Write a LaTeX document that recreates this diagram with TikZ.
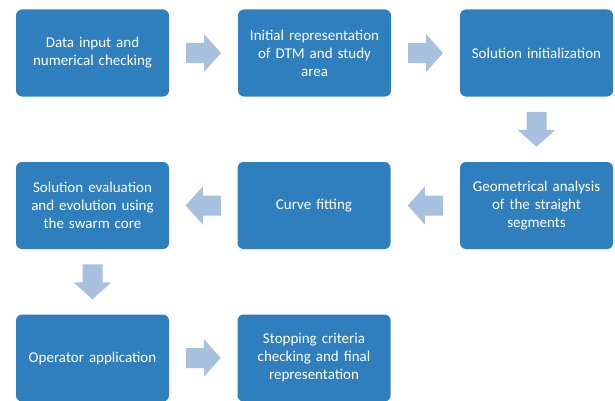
\documentclass[tikz,border=0pt]{standalone}
\usepackage{fontspec}
\setmainfont{Carlito}
\usetikzlibrary{calc}
\definecolor{boxblue}{RGB}{47,126,190}
\definecolor{arrowblue}{RGB}{166,192,222}
\tikzset{
  x=1pt,y=1pt,
  stepbox/.style={draw=none, fill=boxblue, rounded corners=6pt, text=white,
    minimum width=153pt, minimum height=87pt, align=center, text width=150pt,
    inner sep=0pt, font=\fontsize{15}{18}\selectfont},
  blockarrow/.pic={\fill[arrowblue] (-17.5,-10) -- (0.5,-10) -- (0.5,-19) -- (17.5,0) -- (0.5,19) -- (0.5,10) -- (-17.5,10) -- cycle;}
}
\begin{document}
\begin{tikzpicture}
\useasboundingbox (0,0) rectangle (615,400);
\node[stepbox] (b1) at (92.5,347) {Data input and\\numerical checking};
\node[stepbox] (b2) at (314.5,347) {Initial representation\\of DTM and study\\area};
\node[stepbox] (b3) at (536.5,347) {Solution initialization};
\node[stepbox] (b4) at (92.5,194.5) {Solution evaluation\\and evolution using\\the swarm core};
\node[stepbox] (b5) at (314,194.5) {Curve fitting};
\node[stepbox] (b6) at (536.5,194.5) {Geometrical analysis\\of the straight\\segments};
\node[stepbox] (b7) at (92.5,42) {Operator application};
\node[stepbox] (b8) at (314,42) {Stopping criteria\\checking and final\\representation};
\path ($(b1.east)!0.5!(b2.west)$) pic {blockarrow};
\path ($(b2.east)!0.5!(b3.west)$) pic {blockarrow};
\path ($(b3.south)!0.5!(b6.north)$) pic[rotate=-90] {blockarrow};
\path ($(b6.west)!0.5!(b5.east)$) pic[rotate=180] {blockarrow};
\path ($(b5.west)!0.5!(b4.east)$) pic[rotate=180] {blockarrow};
\path ($(b4.south)!0.5!(b7.north)$) pic[rotate=-90] {blockarrow};
\path ($(b7.east)!0.5!(b8.west)$) pic {blockarrow};
\end{tikzpicture}
\end{document}
